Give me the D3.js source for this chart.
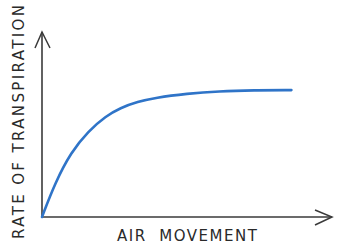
<!DOCTYPE html>
<html>
<head>
<meta charset="utf-8">
<script src="https://cdn.jsdelivr.net/npm/d3@7"></script>
<style>
  body { margin: 0; background: #fff; }
  svg { display: block; }
</style>
</head>
<body>
<svg width="348" height="246"></svg>
<script>
// values (arbitrary units, 0-100)
var airMovement = [0, 4.5, 10, 16, 22, 27, 33, 39, 50, 61, 73, 86];
var transpiration = [0, 18.4, 35, 46.5, 54.5, 59, 62.3, 64.5, 66.7, 68, 68.5, 68.6];
var xTitle = "AIR  MOVEMENT";
var yTitle = "RATE OF TRANSPIRATION";

var svg = d3.select("svg");
var x = d3.scaleLinear().domain([0, 100]).range([42, 332]);
var y = d3.scaleLinear().domain([0, 100]).range([217, 32]);

var axisColor = "#3a3a3a";

// y axis with arrow
svg.append("line")
   .attr("x1", x(0)).attr("y1", y(0))
   .attr("x2", x(0)).attr("y2", y(100))
   .attr("stroke", axisColor).attr("stroke-width", 1.6);
svg.append("path")
   .attr("d", "M" + (x(0) - 7) + "," + (y(100) + 16) + "L" + x(0) + "," + y(100) + "L" + (x(0) + 8) + "," + (y(100) + 16))
   .attr("fill", "none").attr("stroke", axisColor).attr("stroke-width", 1.5);

// x axis with arrow
svg.append("line")
   .attr("x1", x(0)).attr("y1", y(0))
   .attr("x2", x(100)).attr("y2", y(0))
   .attr("stroke", axisColor).attr("stroke-width", 1.6);
svg.append("path")
   .attr("d", "M" + (x(100) - 17) + "," + (y(0) - 7) + "L" + x(100) + "," + y(0) + "L" + (x(100) - 17) + "," + (y(0) + 8))
   .attr("fill", "none").attr("stroke", axisColor).attr("stroke-width", 1.5);

// curve
var line = d3.line()
   .x(function(d, i) { return x(airMovement[i]); })
   .y(function(d) { return y(d); })
   .curve(d3.curveBasis);

svg.append("path")
   .datum(transpiration)
   .attr("d", line)
   .attr("fill", "none")
   .attr("stroke", "#2f74c8")
   .attr("stroke-width", 2.6)
   .attr("stroke-linecap", "round");

// titles
svg.append("text")
   .attr("x", 117).attr("y", 241)
   .attr("textLength", 140).attr("lengthAdjust", "spacing")
   .attr("font-family", "DejaVu Sans, sans-serif")
   .attr("font-size", 15)
   .attr("fill", "#2a2a2a")
   .style("white-space", "pre")
   .text(xTitle);

svg.append("text")
   .attr("transform", "translate(24," + 239 + ") rotate(-90)")
   .attr("textLength", 234).attr("lengthAdjust", "spacing")
   .attr("font-family", "DejaVu Sans, sans-serif")
   .attr("font-size", 15)
   .attr("fill", "#2a2a2a")
   .text(yTitle);
</script>
</body>
</html>
